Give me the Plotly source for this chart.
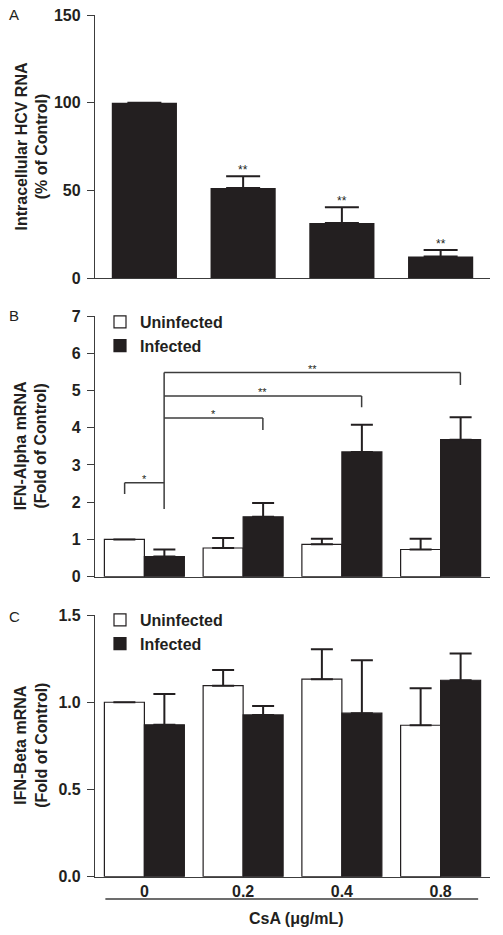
import plotly.graph_objects as go

# ---------------- data ----------------
doses = ["0", "0.2", "0.4", "0.8"]
xpos = [0, 1, 2, 3]

hcv_rna = [100, 51.3, 31.3, 12.3]
hcv_rna_err = [0, 6.7, 9.0, 3.6]
hcv_sig = ["", "**", "**", "**"]

ifna_uninf = [1.0, 0.77, 0.87, 0.73]
ifna_uninf_err = [0, 0.27, 0.15, 0.29]
ifna_inf = [0.54, 1.61, 3.35, 3.68]
ifna_inf_err = [0.19, 0.37, 0.73, 0.60]

ifnb_uninf = [1.0, 1.095, 1.132, 0.868]
ifnb_uninf_err = [0, 0.09, 0.172, 0.212]
ifnb_inf = [0.871, 0.927, 0.937, 1.126]
ifnb_inf_err = [0.176, 0.052, 0.304, 0.153]

# significance brackets in panel B: (x_left, x_right, level, left_drop, right_drop, label, label_x)
brackets_b = [
    (-0.2, 0.2, 2.52, 2.22, None, "*", 0.0),
    (0.2, 1.2, 4.26, None, 3.94, "*", 0.7),
    (0.2, 2.2, 4.85, None, 4.55, "**", 1.2),
    (0.2, 3.2, 5.48, None, 5.15, "**", 1.7),
]
stem_b = (0.2, 1.82, 5.48)

W, H = 503, 935
DARK = "#231f20"
LINE = "#3c3c3c"
FONT = "Liberation Sans, Arial, sans-serif"

def px_x(p):
    return p / W

def px_y(p):
    return 1 - p / H

xdom = [px_x(95), px_x(490)]
ydomA = [px_y(278), px_y(15)]
ydomB = [px_y(576.7), px_y(316)]
ydomC = [px_y(876.7), px_y(615)]

fig = go.Figure()

# Panel A
fig.add_trace(go.Bar(
    x=xpos, y=hcv_rna, width=0.66, marker=dict(color=DARK, line=dict(width=0)),
    error_y=dict(type="data", array=hcv_rna_err, arrayminus=[0] * 4, symmetric=False,
                 color=DARK, thickness=2, width=17),
    xaxis="x", yaxis="y", showlegend=False, name="HCV RNA",
))

# Panel B
fig.add_trace(go.Bar(
    x=xpos, y=ifna_uninf, width=0.405, offset=-0.405, name="Uninfected",
    marker=dict(color="white", line=dict(color=DARK, width=1.2)),
    error_y=dict(type="data", array=ifna_uninf_err, arrayminus=[0] * 4, symmetric=False,
                 color=DARK, thickness=2, width=11),
    xaxis="x2", yaxis="y2", legend="legend",
))
fig.add_trace(go.Bar(
    x=xpos, y=ifna_inf, width=0.405, offset=0, name="Infected",
    marker=dict(color=DARK, line=dict(color=DARK, width=1.2)),
    error_y=dict(type="data", array=ifna_inf_err, arrayminus=[0] * 4, symmetric=False,
                 color=DARK, thickness=2, width=11),
    xaxis="x2", yaxis="y2", legend="legend",
))

# Panel C
fig.add_trace(go.Bar(
    x=xpos, y=ifnb_uninf, width=0.405, offset=-0.405, name="Uninfected",
    marker=dict(color="white", line=dict(color=DARK, width=1.2)),
    error_y=dict(type="data", array=ifnb_uninf_err, arrayminus=[0] * 4, symmetric=False,
                 color=DARK, thickness=2, width=11),
    xaxis="x3", yaxis="y3", legend="legend2",
))
fig.add_trace(go.Bar(
    x=xpos, y=ifnb_inf, width=0.405, offset=0, name="Infected",
    marker=dict(color=DARK, line=dict(color=DARK, width=1.2)),
    error_y=dict(type="data", array=ifnb_inf_err, arrayminus=[0] * 4, symmetric=False,
                 color=DARK, thickness=2, width=11),
    xaxis="x3", yaxis="y3", legend="legend2",
))

tickfont = dict(family=FONT, size=16, color=DARK, weight="bold")

def xaxis_cfg(domain, anchor, labels):
    cfg = dict(domain=domain, anchor=anchor, range=[-0.5, 3.5], showline=True,
               linecolor=LINE, linewidth=1.3, ticks="", showgrid=False, zeroline=False,
               tickmode="array", tickvals=xpos, fixedrange=True, automargin=False)
    if labels:
        cfg.update(ticktext=doses, tickfont=tickfont, showticklabels=True, ticklabelstandoff=0)
    else:
        cfg.update(showticklabels=False)
    return cfg

def yaxis_cfg(domain, anchor, rng, dtick, fmt=None):
    cfg = dict(domain=domain, anchor=anchor, range=rng, dtick=dtick, tick0=0,
               showline=True, linecolor=LINE, linewidth=1.3, ticks="outside",
               ticklen=7, tickwidth=1.3, tickcolor=LINE, showgrid=False,
               zeroline=False, tickfont=tickfont, fixedrange=True, automargin=False,
               ticklabelstandoff=3)
    if fmt:
        cfg["tickformat"] = fmt
    return cfg

shapes = []
annotations = []

# stars panel A
for xi, top, err, lab in zip(xpos, hcv_rna, hcv_rna_err, hcv_sig):
    if lab:
        annotations.append(dict(x=xi, y=top + err, xref="x", yref="y", text=lab,
                                showarrow=False, yanchor="bottom", yshift=-3,
                                font=dict(family=FONT, size=12, color=DARK)))

# brackets panel B
lk = dict(color=LINE, width=1.5)
for xl, xr, lev, ld, rd, lab, lx in brackets_b:
    shapes.append(dict(type="line", xref="x2", yref="y2", x0=xl, x1=xr, y0=lev, y1=lev, line=lk))
    if ld is not None:
        shapes.append(dict(type="line", xref="x2", yref="y2", x0=xl, x1=xl, y0=lev, y1=ld, line=lk))
    if rd is not None:
        shapes.append(dict(type="line", xref="x2", yref="y2", x0=xr, x1=xr, y0=lev, y1=rd, line=lk))
    annotations.append(dict(x=lx, y=lev, xref="x2", yref="y2", text=lab, showarrow=False,
                            yanchor="bottom", yshift=-4,
                            font=dict(family=FONT, size=11, color=DARK)))
sx, sy0, sy1 = stem_b
shapes.append(dict(type="line", xref="x2", yref="y2", x0=sx, x1=sx, y0=sy0, y1=sy1, line=lk))

# line under x tick labels in panel C
shapes.append(dict(type="line", xref="x3", yref="paper", x0=-0.395, x1=3.38,
                   y0=px_y(899), y1=px_y(899), line=dict(color=LINE, width=1.3)))

titlefont = dict(family=FONT, size=16, color=DARK, weight="bold")
ytitles = [
    ("Intracellular HCV RNA<br>(% of Control)", ydomA),
    ("IFN-Alpha mRNA<br>(Fold of Control)", ydomB),
    ("IFN-Beta mRNA<br>(Fold of Control)", ydomC),
]
for txt, dom in ytitles:
    annotations.append(dict(x=px_x(31), y=(dom[0] + dom[1]) / 2, xref="paper", yref="paper",
                            text=txt, textangle=-90, showarrow=False, xanchor="center",
                            yanchor="middle", font=titlefont))

# panel letters
for letter, ypx in [("A", 15), ("B", 316), ("C", 616)]:
    annotations.append(dict(x=px_x(7), y=px_y(ypx), xref="paper", yref="paper", text=letter,
                            showarrow=False, xanchor="left", yanchor="middle",
                            font=dict(family=FONT, size=15, color=DARK)))

# x title
annotations.append(dict(x=px_x(296), y=px_y(918), xref="paper", yref="paper",
                        text="CsA (μg/mL)", showarrow=False, xanchor="center",
                        yanchor="middle", font=titlefont))

legfont = dict(family=FONT, size=16, color=DARK, weight="bold")

fig.update_layout(
    width=W, height=H,
    margin=dict(l=0, r=0, t=0, b=0, pad=0, autoexpand=False),
    paper_bgcolor="white", plot_bgcolor="white",
    barmode="overlay",
    xaxis=xaxis_cfg(xdom, "y", False),
    yaxis=yaxis_cfg(ydomA, "x", [0, 150], 50),
    xaxis2=xaxis_cfg(xdom, "y2", False),
    yaxis2=yaxis_cfg(ydomB, "x2", [0, 7], 1),
    xaxis3=xaxis_cfg(xdom, "y3", True),
    yaxis3=yaxis_cfg(ydomC, "x3", [0, 1.5], 0.5, ".1f"),
    legend=dict(x=px_x(100), y=px_y(305), xanchor="left", yanchor="top",
                font=legfont, bgcolor="rgba(0,0,0,0)", tracegroupgap=0),
    legend2=dict(x=px_x(100), y=px_y(603), xanchor="left", yanchor="top",
                 font=legfont, bgcolor="rgba(0,0,0,0)", tracegroupgap=0),
    shapes=shapes,
    annotations=annotations,
    font=dict(family=FONT, color=DARK),
)

fig.write_html("out.html", config={"displayModeBar": False},
               post_script="document.body.style.margin='0';document.body.style.overflow='hidden';")
